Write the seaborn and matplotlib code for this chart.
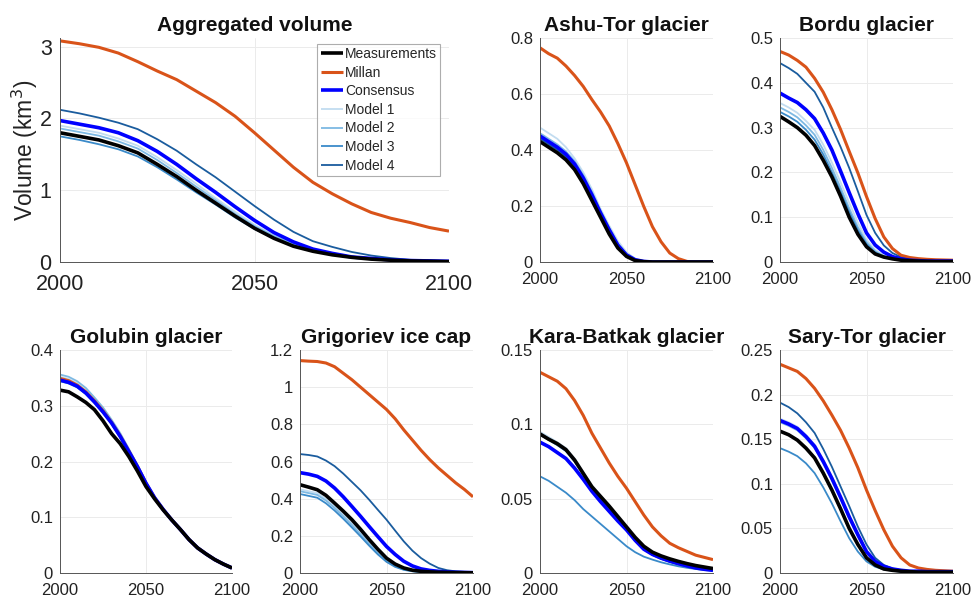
import numpy as np
import pandas as pd
import matplotlib
matplotlib.use("Agg")
import matplotlib.pyplot as plt
import seaborn as sns
from matplotlib.ticker import FuncFormatter

sns.set_theme(style="white")
plt.rcParams['font.family'] = ['Liberation Sans', 'DejaVu Sans']

years = list(range(2000, 2101, 5))
series_names = ["Measurements", "Millan", "Consensus", "Model 1", "Model 2", "Model 3", "Model 4"]

# ---- Aggregated volume ----
agg_meas = [1.80,1.75,1.70,1.62,1.52,1.36,1.19,1.00,0.82,0.64,0.47,0.33,0.22,0.15,0.10,0.065,0.04,0.025,0.015,0.01,0.005]
agg_millan = [3.08,3.04,2.99,2.91,2.79,2.66,2.54,2.38,2.22,2.03,1.80,1.56,1.32,1.11,0.95,0.81,0.69,0.61,0.55,0.48,0.43]
agg_cons = [1.97,1.92,1.87,1.80,1.69,1.54,1.36,1.16,0.97,0.77,0.58,0.41,0.28,0.18,0.12,0.07,0.05,0.03,0.02,0.015,0.01]
agg_m1 = [1.90,1.85,1.80,1.72,1.62,1.46,1.28,1.09,0.89,0.70,0.52,0.37,0.25,0.17,0.11,0.07,0.045,0.03,0.018,0.011,0.007]
agg_m2 = [1.86,1.81,1.76,1.68,1.58,1.42,1.24,1.05,0.86,0.67,0.50,0.36,0.25,0.17,0.11,0.075,0.05,0.032,0.02,0.012,0.008]
agg_m3 = [1.75,1.70,1.64,1.57,1.47,1.32,1.15,0.97,0.80,0.62,0.46,0.33,0.23,0.16,0.11,0.075,0.05,0.03,0.02,0.012,0.008]
agg_m4 = [2.12,2.07,2.01,1.94,1.85,1.71,1.55,1.36,1.18,0.98,0.78,0.59,0.42,0.29,0.21,0.14,0.09,0.055,0.03,0.02,0.01]

# ---- Ashu-Tor ----
ash_meas = [0.43,0.41,0.39,0.365,0.33,0.28,0.22,0.16,0.10,0.05,0.02,0.005,0.001,0,0,0,0,0,0,0,0]
ash_millan = [0.765,0.744,0.728,0.70,0.666,0.627,0.58,0.536,0.486,0.423,0.354,0.276,0.198,0.126,0.072,0.032,0.012,0.002,0,0,0]
ash_cons = [0.45,0.43,0.41,0.385,0.35,0.30,0.24,0.175,0.115,0.06,0.025,0.008,0.002,0,0,0,0,0,0,0,0]
ash_m1 = [0.48,0.46,0.44,0.41,0.37,0.32,0.26,0.19,0.13,0.075,0.035,0.012,0.003,0,0,0,0,0,0,0,0]
ash_m2 = [0.46,0.44,0.42,0.395,0.36,0.31,0.25,0.183,0.122,0.066,0.029,0.01,0.002,0,0,0,0,0,0,0,0]
ash_m3 = [0.445,0.425,0.405,0.38,0.345,0.295,0.235,0.172,0.112,0.058,0.024,0.007,0.001,0,0,0,0,0,0,0,0]
ash_m4 = [0.44,0.42,0.40,0.375,0.34,0.29,0.232,0.17,0.11,0.056,0.023,0.007,0.001,0,0,0,0,0,0,0,0]

# ---- Bordu ----
bor_meas = [0.325,0.313,0.30,0.283,0.26,0.227,0.19,0.147,0.10,0.062,0.034,0.018,0.011,0.007,0.004,0.003,0.002,0.0015,0.001,0.001,0.001]
bor_millan = [0.47,0.462,0.45,0.435,0.41,0.379,0.34,0.296,0.247,0.199,0.146,0.097,0.056,0.03,0.015,0.01,0.0075,0.006,0.005,0.0045,0.004]
bor_cons = [0.377,0.366,0.356,0.34,0.32,0.288,0.25,0.203,0.155,0.108,0.065,0.038,0.022,0.012,0.007,0.004,0.003,0.002,0.002,0.002,0.002]
bor_m1 = [0.355,0.345,0.333,0.315,0.295,0.262,0.222,0.178,0.132,0.088,0.05,0.027,0.015,0.009,0.005,0.003,0.002,0.0015,0.001,0.001,0.001]
bor_m2 = [0.345,0.335,0.323,0.305,0.284,0.25,0.21,0.166,0.12,0.078,0.044,0.024,0.013,0.008,0.005,0.003,0.002,0.0015,0.001,0.001,0.001]
bor_m3 = [0.335,0.325,0.313,0.295,0.273,0.24,0.20,0.157,0.112,0.071,0.04,0.021,0.012,0.007,0.004,0.003,0.002,0.0015,0.001,0.001,0.001]
bor_m4 = [0.444,0.433,0.42,0.40,0.38,0.345,0.30,0.257,0.21,0.158,0.105,0.065,0.037,0.02,0.011,0.007,0.004,0.003,0.002,0.002,0.002]

# ---- Golubin ----
gol_meas = [0.328,0.325,0.316,0.306,0.293,0.273,0.25,0.232,0.209,0.183,0.155,0.133,0.113,0.095,0.078,0.06,0.045,0.034,0.024,0.016,0.009]
gol_millan = [0.349,0.345,0.337,0.325,0.309,0.291,0.27,0.246,0.219,0.191,0.161,0.135,0.114,0.095,0.078,0.06,0.045,0.034,0.024,0.016,0.009]
gol_cons = [0.346,0.342,0.335,0.323,0.307,0.289,0.269,0.245,0.218,0.191,0.161,0.135,0.114,0.095,0.078,0.06,0.045,0.034,0.024,0.016,0.009]
gol_m1 = [0.352,0.348,0.34,0.328,0.312,0.294,0.273,0.249,0.222,0.193,0.162,0.136,0.114,0.095,0.078,0.06,0.045,0.034,0.024,0.016,0.009]
gol_m2 = [0.356,0.352,0.344,0.332,0.315,0.297,0.275,0.251,0.223,0.194,0.163,0.136,0.114,0.095,0.078,0.06,0.045,0.034,0.024,0.016,0.009]
gol_m3 = [0.344,0.34,0.333,0.321,0.305,0.287,0.267,0.243,0.216,0.189,0.16,0.134,0.113,0.095,0.078,0.06,0.045,0.034,0.024,0.016,0.009]
gol_m4 = [0.347,0.343,0.336,0.324,0.308,0.29,0.27,0.246,0.219,0.191,0.161,0.135,0.114,0.095,0.078,0.06,0.045,0.034,0.024,0.016,0.009]

# ---- Grigoriev ----
gri_meas = [0.475,0.462,0.448,0.418,0.376,0.333,0.287,0.235,0.18,0.128,0.08,0.048,0.027,0.015,0.009,0.006,0.004,0.003,0.002,0.0015,0.001]
gri_millan = [1.143,1.14,1.138,1.13,1.11,1.075,1.04,1.00,0.96,0.92,0.88,0.83,0.77,0.715,0.66,0.61,0.565,0.525,0.485,0.45,0.41]
gri_cons = [0.54,0.532,0.52,0.495,0.457,0.41,0.358,0.305,0.25,0.196,0.143,0.1,0.063,0.038,0.022,0.014,0.009,0.006,0.004,0.003,0.002]
gri_m1 = [0.45,0.44,0.43,0.40,0.36,0.315,0.268,0.218,0.165,0.115,0.07,0.04,0.022,0.012,0.007,0.004,0.003,0.002,0.0015,0.001,0.001]
gri_m2 = [0.44,0.43,0.42,0.39,0.35,0.305,0.258,0.208,0.156,0.107,0.064,0.036,0.019,0.01,0.006,0.004,0.003,0.002,0.0015,0.001,0.001]
gri_m3 = [0.425,0.415,0.405,0.375,0.336,0.292,0.245,0.197,0.147,0.1,0.06,0.033,0.017,0.009,0.005,0.003,0.002,0.0015,0.001,0.001,0.001]
gri_m4 = [0.64,0.635,0.627,0.605,0.575,0.535,0.49,0.445,0.394,0.34,0.287,0.228,0.17,0.12,0.08,0.05,0.027,0.015,0.009,0.006,0.004]

# ---- Kara-Batkak ----
kar_meas = [0.0935,0.09,0.087,0.083,0.076,0.067,0.058,0.0515,0.045,0.038,0.031,0.024,0.018,0.014,0.0115,0.0095,0.0078,0.0063,0.005,0.004,0.003]
kar_millan = [0.135,0.132,0.129,0.124,0.116,0.106,0.094,0.084,0.074,0.065,0.057,0.048,0.039,0.031,0.025,0.02,0.017,0.0145,0.012,0.0105,0.009]
kar_cons = [0.088,0.085,0.081,0.077,0.0705,0.063,0.055,0.048,0.0415,0.035,0.029,0.022,0.016,0.0125,0.01,0.008,0.0063,0.0048,0.0034,0.0025,0.0018]
kar_m1 = [0.095,0.0915,0.088,0.084,0.077,0.068,0.059,0.052,0.0455,0.038,0.031,0.024,0.017,0.013,0.01,0.008,0.006,0.0047,0.0035,0.0027,0.002]
kar_m2 = [0.094,0.0905,0.087,0.083,0.076,0.067,0.058,0.051,0.0445,0.037,0.030,0.023,0.0165,0.0125,0.0098,0.0078,0.006,0.0046,0.0034,0.0026,0.002]
kar_m3 = [0.065,0.062,0.058,0.054,0.049,0.043,0.038,0.033,0.028,0.023,0.018,0.014,0.011,0.009,0.0072,0.0058,0.0045,0.0035,0.0027,0.002,0.0016]
kar_m4 = [0.093,0.0895,0.086,0.082,0.075,0.066,0.057,0.050,0.044,0.0365,0.0295,0.0225,0.016,0.0122,0.0095,0.0075,0.0058,0.0044,0.0033,0.0025,0.0019]

# ---- Sary-Tor ----
sar_meas = [0.159,0.155,0.149,0.14,0.129,0.112,0.093,0.072,0.05,0.032,0.017,0.009,0.0045,0.003,0.002,0.0015,0.001,0.001,0.001,0.001,0.001]
sar_millan = [0.234,0.23,0.226,0.218,0.207,0.193,0.177,0.16,0.14,0.118,0.093,0.07,0.0485,0.03,0.017,0.009,0.0056,0.004,0.003,0.0025,0.002]
sar_cons = [0.171,0.167,0.162,0.153,0.142,0.125,0.106,0.085,0.063,0.043,0.024,0.013,0.0075,0.0045,0.003,0.002,0.002,0.0015,0.0015,0.0015,0.0015]
sar_m1 = [0.173,0.169,0.164,0.155,0.144,0.127,0.108,0.087,0.065,0.044,0.025,0.014,0.008,0.0045,0.003,0.002,0.0015,0.0015,0.001,0.001,0.001]
sar_m2 = [0.169,0.165,0.16,0.151,0.14,0.123,0.104,0.083,0.061,0.041,0.023,0.012,0.007,0.004,0.0025,0.002,0.0015,0.001,0.001,0.001,0.001]
sar_m3 = [0.14,0.136,0.131,0.123,0.112,0.096,0.078,0.058,0.039,0.024,0.013,0.007,0.004,0.0025,0.0015,0.001,0.001,0.001,0.001,0.001,0.001]
sar_m4 = [0.191,0.186,0.179,0.169,0.157,0.139,0.119,0.097,0.075,0.052,0.032,0.017,0.009,0.005,0.003,0.002,0.0015,0.001,0.001,0.001,0.001]

colors = {
    "Measurements": "#000000",
    "Millan": "#D95319",
    "Consensus": "#0000FF",
    "Model 1": "#C2DCF0",
    "Model 2": "#7DB9E3",
    "Model 3": "#3A8AC9",
    "Model 4": "#1A5C9E",
}
widths = {"Measurements": 2.6, "Millan": 2.2, "Consensus": 2.6,
          "Model 1": 1.3, "Model 2": 1.3, "Model 3": 1.3, "Model 4": 1.3}
draw_order = ["Model 1", "Model 2", "Model 3", "Model 4", "Millan", "Consensus", "Measurements"]

panels = [
    ("Aggregated volume", [agg_meas, agg_millan, agg_cons, agg_m1, agg_m2, agg_m3, agg_m4], [0, 1, 2, 3], 3.12),
    ("Ashu-Tor glacier", [ash_meas, ash_millan, ash_cons, ash_m1, ash_m2, ash_m3, ash_m4], [0, 0.2, 0.4, 0.6, 0.8], 0.8),
    ("Bordu glacier", [bor_meas, bor_millan, bor_cons, bor_m1, bor_m2, bor_m3, bor_m4], [0, 0.1, 0.2, 0.3, 0.4, 0.5], 0.5),
    ("Golubin glacier", [gol_meas, gol_millan, gol_cons, gol_m1, gol_m2, gol_m3, gol_m4], [0, 0.1, 0.2, 0.3, 0.4], 0.4),
    ("Grigoriev ice cap", [gri_meas, gri_millan, gri_cons, gri_m1, gri_m2, gri_m3, gri_m4], [0, 0.2, 0.4, 0.6, 0.8, 1, 1.2], 1.2),
    ("Kara-Batkak glacier", [kar_meas, kar_millan, kar_cons, kar_m1, kar_m2, kar_m3, kar_m4], [0, 0.05, 0.1, 0.15], 0.15),
    ("Sary-Tor glacier", [sar_meas, sar_millan, sar_cons, sar_m1, sar_m2, sar_m3, sar_m4], [0, 0.05, 0.1, 0.15, 0.2, 0.25], 0.25),
]

W, H = 974, 599
fig = plt.figure(figsize=(W / 100, H / 100), dpi=100)

def rect(x0, x1, ytop, ybot):
    return [x0 / W, 1 - ybot / H, (x1 - x0) / W, (ybot - ytop) / H]

positions = [
    rect(60, 449, 38, 262),
    rect(540, 713, 38, 262),
    rect(780, 953, 38, 262),
    rect(60, 232, 350, 573),
    rect(300, 473, 350, 573),
    rect(540, 713, 350, 573),
    rect(780, 953, 350, 573),
]

fmt = FuncFormatter(lambda v, p: ("%g" % round(v, 4)))

for i, ((title, vals, yt, ytop), pos) in enumerate(zip(panels, positions)):
    ax = fig.add_axes(pos)
    df = pd.DataFrame({"year": years})
    for name, v in zip(series_names, vals):
        df[name] = v
    long = df.melt(id_vars="year", var_name="series", value_name="volume")
    handles = {}
    for name in draw_order:
        sub = long[long["series"] == name]
        sns.lineplot(data=sub, x="year", y="volume", ax=ax, color=colors[name],
                     linewidth=widths[name], label=name, legend=False,
                     solid_capstyle="butt")
        handles[name] = ax.lines[-1]
    ax.set_xlim(2000, 2100)
    ax.set_ylim(0, ytop)
    ax.set_xticks([2000, 2050, 2100])
    ax.set_yticks(yt)
    ax.yaxis.set_major_formatter(fmt)
    ax.set_xlabel("")
    ax.set_ylabel("")
    ax.grid(True, color="#ebebeb", linewidth=0.7)
    ax.set_axisbelow(True)
    for s in ["top", "right"]:
        ax.spines[s].set_visible(False)
    for s in ["left", "bottom"]:
        ax.spines[s].set_color("#555555")
        ax.spines[s].set_linewidth(0.7)
    big = (i == 0)
    ax.tick_params(axis="both", direction="in", length=3, width=0.6, colors="#555555",
                   labelcolor="#222222", labelsize=15.5 if big else 12)
    ax.tick_params(axis="x", pad=9 if big else 7)
    ax.tick_params(axis="y", pad=6 if big else 5)
    ax.set_title(title, fontsize=15, fontweight="bold", pad=5, color="#111111")
    if big:
        ax.set_ylabel("Volume (km$^3$)", fontsize=16.5, color="#222222", labelpad=0)
        leg = ax.legend([handles[n] for n in series_names], series_names,
                        loc="upper right", bbox_to_anchor=(0.978, 0.975),
                        fontsize=10, frameon=True, fancybox=False,
                        handlelength=1.6, handletextpad=0.15, borderpad=0.25,
                        labelspacing=0.33, borderaxespad=0.0)
        leg.get_frame().set_edgecolor("#999999")
        leg.get_frame().set_linewidth(0.8)

fig.savefig("out.png", dpi=100, facecolor="white")
